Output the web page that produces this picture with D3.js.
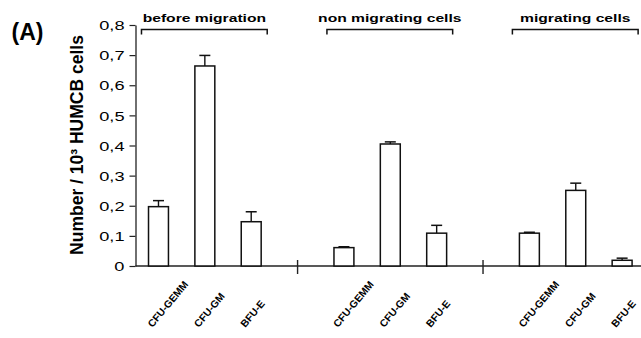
<!DOCTYPE html>
<html><head><meta charset="utf-8">
<script src="https://cdn.jsdelivr.net/npm/d3@7"></script>
<style>body{margin:0;background:#fff}svg{display:block}text{font-family:"Liberation Sans",Arial,sans-serif;fill:#000}</style>
</head><body><svg id="c" width="641" height="338"></svg>
<script>
const groups = ["before migration", "non migrating cells", "migrating cells"];
const categories = ["CFU-GEMM", "CFU-GM", "BFU-E"];
const valuesBefore = [0.197, 0.664, 0.147];
const errorsBefore = [0.020, 0.035, 0.033];
const valuesNon = [0.061, 0.405, 0.109];
const errorsNon = [0.003, 0.007, 0.026];
const valuesMig = [0.109, 0.251, 0.019];
const errorsMig = [0.003, 0.024, 0.007];
const yTicks = [0, 0.1, 0.2, 0.3, 0.4, 0.5, 0.6, 0.7, 0.8];
const yLabel = "Number / 10³ HUMCB cells";
const panelLabel = "(A)";

const groupValues = [valuesBefore, valuesNon, valuesMig];
const groupErrors = [errorsBefore, errorsNon, errorsMig];

// slots: 3 bars, gap, 3 bars, gap, 3 bars
const slots = [];
groups.forEach((g, gi) => {
  categories.forEach((c, ci) => slots.push({key: gi + "-" + ci, g: gi, c: ci, value: groupValues[gi][ci], err: groupErrors[gi][ci]}));
  if (gi < groups.length - 1) slots.push({key: "gap" + gi, gap: true});
});
const bars = slots.filter(d => !d.gap);
const gaps = slots.filter(d => d.gap);

const svg = d3.select("#c");
const SX = 1.35; // horizontal stretch of the reference text
const x = d3.scalePoint().domain(slots.map(d => d.key)).range([135.3, 645.3]).padding(0.5);
const y = d3.scaleLinear().domain([0, 0.8]).range([266, 25]);
const bw = x.step() * 0.43;

// y axis
const yAxis = svg.append("g").attr("transform", "translate(135.5,0)")
  .call(d3.axisLeft(y).tickValues(yTicks).tickSize(6).tickSizeOuter(0)
    .tickFormat(d => d === 0 ? "0" : d3.format(".1f")(d).replace(".", ",")));
yAxis.select(".domain").attr("stroke", "#222").attr("stroke-width", 1.3);
yAxis.selectAll(".tick line").attr("stroke", "#222").attr("stroke-width", 1.2);
yAxis.selectAll(".tick text").attr("x", null).attr("dy", "0.35em")
  .attr("transform", `translate(-11,0) scale(${SX},1)`)
  .style("font-size", "13.5px").style("font-family", '"Liberation Sans",Arial,sans-serif').attr("fill", "#000");

// x axis line
svg.append("line").attr("x1", 135.5).attr("x2", 641).attr("y1", y(0)).attr("y2", y(0))
  .attr("stroke", "#222").attr("stroke-width", 1.3);
// break marks
svg.selectAll(".brk").data(gaps).join("line").attr("class", "brk")
  .attr("x1", d => x(d.key)).attr("x2", d => x(d.key))
  .attr("y1", y(0) - 6).attr("y2", y(0) + 8).attr("stroke", "#222").attr("stroke-width", 1.4);

// error bars
const eb = svg.selectAll(".eb").data(bars).join("g").attr("class", "eb");
eb.append("line").attr("x1", d => x(d.key)).attr("x2", d => x(d.key))
  .attr("y1", d => y(d.value)).attr("y2", d => y(d.value + d.err))
  .attr("stroke", "#111").attr("stroke-width", 1.4);
eb.append("line").attr("x1", d => x(d.key) - 5.5).attr("x2", d => x(d.key) + 5.5)
  .attr("y1", d => y(d.value + d.err)).attr("y2", d => y(d.value + d.err))
  .attr("stroke", "#111").attr("stroke-width", 1.5);

// bars
svg.selectAll(".bar").data(bars).join("rect").attr("class", "bar")
  .attr("x", d => x(d.key) - bw / 2).attr("width", bw)
  .attr("y", d => y(d.value)).attr("height", d => y(0) - y(d.value))
  .attr("fill", "#fff").attr("stroke", "#111").attr("stroke-width", 1.5);

// x category labels
svg.selectAll(".xl").data(bars).join("text").attr("class", "xl")
  .attr("transform", d => `translate(${x(d.key) - 6},328) rotate(-50)`)
  .attr("text-anchor", "start").style("font-size", "10.3px").style("font-weight", "bold")
  .text(d => categories[d.c]);

// group brackets + titles
groups.forEach((g, gi) => {
  const x0 = x(gi + "-0") - 17, x1 = x(gi + "-2") + 16;
  svg.append("path").attr("d", `M${x0},34.5V29.5H${x1}V34.5`)
    .attr("fill", "none").attr("stroke", "#111").attr("stroke-width", 1.5);
  svg.append("text").attr("transform", `translate(${(x0 + x1) / 2},21.7) scale(${SX},1)`)
    .attr("text-anchor", "middle").style("font-size", "11.6px").style("font-weight", "bold").text(g);
});

// y label
svg.append("text").attr("transform", "translate(83,145) rotate(-90)")
  .attr("text-anchor", "middle").style("font-size", "17.5px").style("font-weight", "bold").text(yLabel);

// panel label
svg.append("text").attr("x", 11.5).attr("y", 40.2).style("font-size", "23px").style("font-weight", "bold").text(panelLabel);
</script></body></html>
